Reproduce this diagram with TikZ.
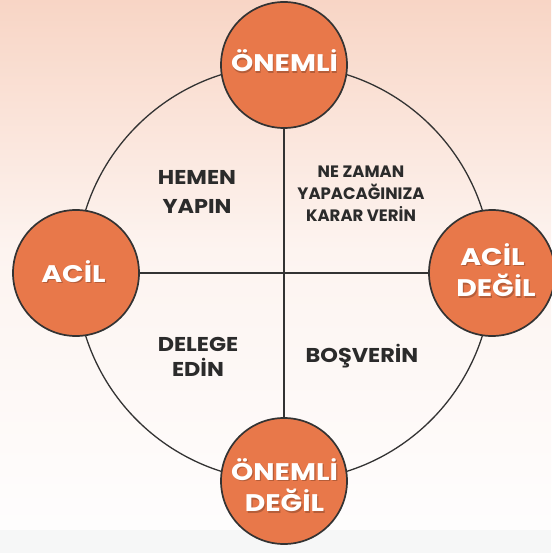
\documentclass[tikz,border=0pt]{standalone}
\usepackage{fontspec}
\setmainfont{Poppins}[BoldFont={* Bold}]
\newfontfamily\lblfont{Poppins Bold}[FakeStretch=1.18]
\newfontfamily\quadfont{Poppins Bold}[FakeStretch=1.12]
\newfontfamily\quadnarrow{Poppins Bold}[FakeStretch=1.0]
\definecolor{bgtop}{HTML}{F8D5C5}
\definecolor{bgmid}{HTML}{FDF4F0}
\definecolor{bgbot}{HTML}{FEFDFD}
\definecolor{bgstrip}{HTML}{F6F7F7}
\definecolor{orangefill}{HTML}{E8784A}
\definecolor{edgegray}{HTML}{333333}
\definecolor{txtdark}{HTML}{2B2B2B}
\tikzset{
  bubble/.style={circle, draw=edgegray, line width=1.7pt, fill=orangefill, minimum size=126pt, inner sep=0pt},
  lbl/.style={anchor=base, inner sep=0pt, text=white, font=\lblfont\fontsize{24}{26}\selectfont},
  lblshadow/.style={anchor=base, inner sep=0pt, text=black, opacity=0.22, font=\lblfont\fontsize{24}{26}\selectfont},
  quad/.style={anchor=base, inner sep=0pt, text=txtdark, font=\quadfont\fontsize{20}{24}\selectfont},
  quadsmall/.style={anchor=base, inner sep=0pt, text=txtdark, font=\quadnarrow\fontsize{16.5}{20}\selectfont},
  ring/.style={draw=edgegray, line width=1.3pt},
  axis/.style={draw=edgegray, line width=1.3pt}
}
\begin{document}
\begin{tikzpicture}[x=1pt,y=-1pt]
  \shade[top color=bgtop, bottom color=bgmid] (0,0) rectangle (551,250);
  \shade[top color=bgmid, bottom color=bgbot] (0,250) rectangle (551,530);
  \fill[color=bgstrip] (0,530) rectangle (551,553);
  \useasboundingbox (0,0) rectangle (551,553);

  \coordinate (c) at (284,273);
  \draw[ring] (c) circle[radius=208];

  \node[bubble] (top) at (284,65) {};
  \node[bubble] (left) at (76,273) {};
  \node[bubble] (right) at (492,273) {};
  \node[bubble] (bottom) at (284,481) {};

  \draw[axis] (top.south) -- (bottom.north);
  \draw[axis] (left.east) -- (right.west);

  % labels in bubbles
  \node[lblshadow] at (285.3,73.3) {ÖNEMLİ};
  \node[lbl] (ttop) at (284.5,72) {ÖNEMLİ};
  \node[lblshadow] at (74.8,283.3) {ACİL};
  \node[lbl] (tleft) at (73.5,282) {ACİL};
  \node[lblshadow] at (493.8,266.3) {ACİL};
  \node[lbl] (tright1) at (492.5,265) {ACİL};
  \node[lblshadow] at (497.3,298) {DEĞİL};
  \node[lbl] (tright2) at (496,296.7) {DEĞİL};
  \node[lblshadow] at (285.8,481.3) {ÖNEMLİ};
  \node[lbl] (tbottom1) at (284.5,480) {ÖNEMLİ};
  \node[lblshadow] at (285.8,513) {DEĞİL};
  \node[lbl] (tbottom2) at (284.5,511.7) {DEĞİL};

  % quadrant texts
  \node[quad] (q1a) at (197,185) {HEMEN};
  \node[quad] (q1b) at (197,213) {YAPIN};
  \node[quadsmall] (q2a) at (361,178) {NE ZAMAN};
  \node[quadsmall] (q2b) at (361,200) {YAPACAĞINIZA};
  \node[quadsmall] (q2c) at (361,222) {KARAR VERİN};
  \node[quad] (q3a) at (198,351.7) {DELEGE};
  \node[quad] (q3b) at (198,376.7) {EDİN};
  \node[quad] (q4) at (362,362.7) {BOŞVERİN};
\end{tikzpicture}
\end{document}
